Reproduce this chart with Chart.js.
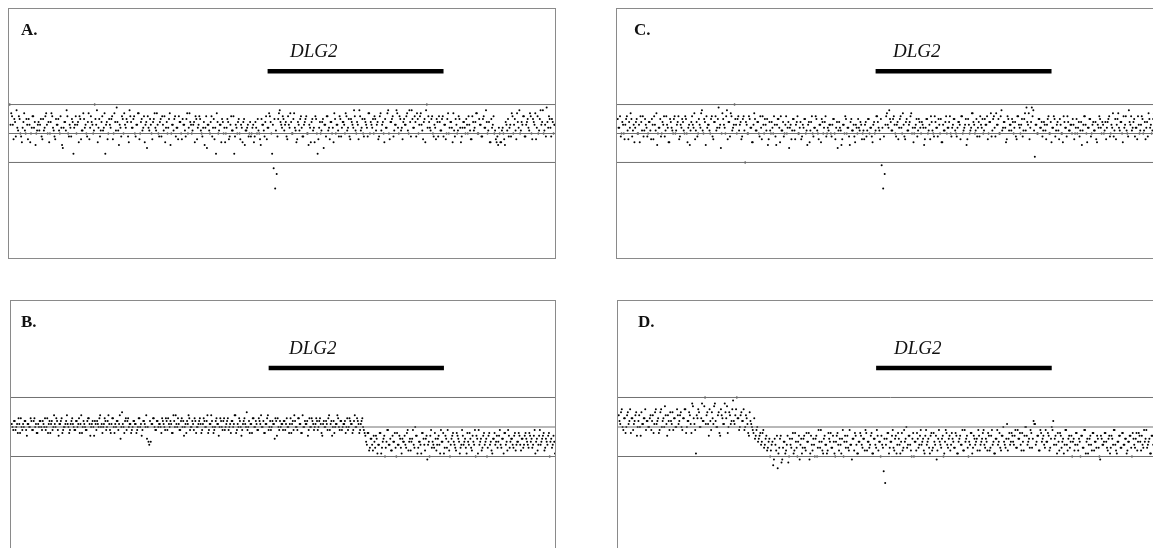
<!DOCTYPE html>
<html>
<head>
<meta charset="utf-8">
<script src="https://cdn.jsdelivr.net/npm/chart.js@4.4.1/dist/chart.umd.min.js"></script>
<style>
  html, body { margin: 0; padding: 0; background: #fff; }
  body { width: 1153px; height: 548px; overflow: hidden; position: relative;
         font-family: "Liberation Serif", "DejaVu Serif", serif; }
  .panel { position: absolute; border: 1px solid #8a8a8a; box-sizing: border-box; overflow: hidden; }
  .panel canvas { position: absolute; left: 0; top: 0; }
  .tag { position: absolute; font-size: 17px; font-weight: bold; line-height: 1; color: #111; }
  .gene { position: absolute; font-size: 19px; font-style: italic; line-height: 1; color: #111; }
</style>
</head>
<body>
<div class="panel" style="left:8px;top:8px;width:548px;height:251px;"><canvas id="chartA" width="546" height="249"></canvas></div>
<div class="panel" style="left:616px;top:8px;width:548px;height:251px;"><canvas id="chartC" width="546" height="249"></canvas></div>
<div class="panel" style="left:10px;top:300px;width:546px;height:256px;"><canvas id="chartB" width="544" height="252"></canvas></div>
<div class="panel" style="left:617px;top:300px;width:547px;height:256px;"><canvas id="chartD" width="545" height="252"></canvas></div>

<div class="tag" style="left:21px;top:21px;">A.</div>
<div class="tag" style="left:634px;top:21px;">C.</div>
<div class="tag" style="left:21px;top:313px;">B.</div>
<div class="tag" style="left:638px;top:313px;">D.</div>
<div class="gene" style="left:290px;top:41px;">DLG2</div>
<div class="gene" style="left:893px;top:41px;">DLG2</div>
<div class="gene" style="left:289px;top:338px;">DLG2</div>
<div class="gene" style="left:894px;top:338px;">DLG2</div>

<script>
// probe log-ratios in tenths of the threshold step (10 = upper line)
// two interleaved probe sets per panel
const panelA = [
  10,7,3,5,-1,2,6,0,-3,4,1,5,-2,3,0,6,2,-4,1,4,
  3,-1,5,2,7,0,-3,4,6,1,-2,3,5,0,2,-5,4,1,6,-1,
  2,5,-7,3,0,4,6,-2,1,5,3,-1,7,2,4,0,10,3,-3,5,
  1,6,2,-7,4,0,3,5,-2,7,1,4,-4,2,6,0,3,5,-1,8,
  4,2,6,-1,3,7,0,5,2,-3,4,6,1,3,-2,5,2,7,0,4,
  -1,3,6,2,0,5,-4,3,1,6,2,-2,4,0,5,3,-1,7,2,4,
  0,3,-3,5,2,6,1,-1,4,2,-5,3,0,6,2,-2,-7,4,1,3,
  5,0,-3,2,4,-1,6,1,-7,3,0,5,-2,2,4,-4,1,3,0,-1,
  2,-3,4,0,1,-2,5,3,-1,6,2,7,4,-7,-12,-19,-14,5,8,3,
  6,1,4,-2,3,7,0,5,2,-3,4,1,6,-1,3,5,0,-4,2,4,
  1,-3,5,-7,2,0,4,-5,3,6,1,-2,4,2,7,0,3,-1,5,2,
  4,0,6,2,-1,5,3,8,1,4,-2,6,2,0,5,3,-1,7,4,2,
  0,5,3,-2,6,1,4,-3,2,7,0,4,5,-1,3,8,2,6,1,-2,
  5,3,7,0,4,8,2,6,-1,5,3,7,1,4,-3,10,6,2,5,0,
  3,-2,4,6,1,5,-1,3,0,7,2,4,-3,1,5,0,6,2,-1,4,
  2,5,0,3,-2,6,1,4,7,0,3,-1,5,2,8,0,4,-3,2,6,
  1,-3,-4,0,-3,2,-2,4,1,-1,3,7,0,5,-2,4,8,1,3,6,
  -1,4,2,7,0,5,3,-2,6,1,8,4,0,3,9,2,5,-1,4,3
];
const panelA2 = [
  3,6,-2,4,8,1,5,-1,2,7,0,3,5,-3,2,6,4,0,3,1,
  5,-2,1,6,3,4,0,7,2,-1,5,3,1,6,-4,2,4,8,0,3,
  -1,4,2,6,3,-3,5,1,7,2,0,4,-2,6,3,1,5,8,2,-1,
  4,1,7,3,-2,5,2,6,0,4,9,1,3,-1,5,7,2,4,-3,6,
  2,5,0,3,7,-2,4,1,6,3,-5,2,5,0,4,7,1,3,-1,5,
  6,1,-3,4,2,7,0,3,5,-1,2,6,4,-2,3,1,5,0,7,3,
  1,4,6,-2,3,5,0,2,-4,6,3,1,4,-1,5,2,7,0,3,-3,
  4,2,0,5,-2,3,1,6,-1,2,4,0,3,-3,5,1,2,-1,4,0,
  3,-1,2,5,0,-4,3,1,4,-2,2,6,0,3,5,1,-1,7,4,2,
  5,3,-1,6,2,4,0,7,1,-2,3,5,2,-1,4,6,0,3,-3,5,
  2,6,0,-2,4,1,5,3,-1,6,2,4,0,-3,5,3,1,6,-1,4,
  3,7,1,5,-2,4,2,6,0,3,8,1,5,-1,4,2,7,0,3,5,
  6,1,4,-1,7,3,0,5,2,8,-2,4,6,1,3,7,0,5,2,4,
  3,6,1,8,-1,5,2,4,7,0,6,3,-2,5,8,2,4,1,6,-1,
  2,5,-1,4,1,6,3,-2,5,0,4,2,7,-1,3,1,5,-3,2,4,
  0,3,6,1,-2,4,2,7,0,5,3,-1,6,2,4,1,-3,5,3,0,
  -2,-1,2,-3,1,0,-4,3,5,2,-1,6,3,1,7,2,0,4,6,-1,
  3,5,1,6,-2,4,7,2,0,5,3,8,1,-1,4,6,2,5,0,3
];
const panelB = [
  1,-1,2,0,-2,1,3,-1,0,2,-3,1,0,2,-1,3,1,-2,0,2,
  -1,1,3,0,-2,2,1,-1,4,0,2,-3,1,3,-1,0,2,1,-2,1,
  3,0,-1,2,1,-2,4,0,1,-1,2,3,-3,1,0,2,-1,1,3,0,
  -2,1,2,0,4,-1,1,3,-2,0,2,1,-4,5,0,2,-1,3,1,-2,
  0,2,1,-1,3,0,-3,2,1,4,0,-6,-5,1,3,-1,2,0,1,-2,
  2,0,3,-1,1,2,-2,4,0,1,3,-1,2,0,-3,1,2,4,-1,0,
  1,3,-2,0,2,1,-1,3,0,2,-2,1,4,0,-1,2,1,-3,3,0,
  2,-1,1,3,0,-2,2,1,4,-1,0,2,-3,1,3,0,-1,2,1,-2,
  3,0,1,-1,2,4,0,-2,1,3,-1,2,0,1,-4,2,3,-1,0,1,
  2,-1,3,0,1,-2,2,4,0,-1,3,1,-2,0,2,1,-3,3,0,2,
  -1,1,2,0,3,-2,1,0,2,-1,4,1,-3,2,0,1,3,-1,2,0,
  1,-2,3,0,2,1,-1,4,0,2,-2,1,3,-1,-3,-6,-2,-7,-4,-8,
  -5,-3,-9,-6,-2,-7,-4,-10,-5,-1,-6,-8,-3,-5,-7,-2,-6,-4,-9,-5,
  -3,-7,-1,-5,-8,-4,-6,0,-3,-7,-5,-9,-2,-6,-4,-11,-5,-3,-7,-6,
  -2,-8,-4,-6,-1,-5,-9,-3,-7,-5,-10,-4,-2,-6,-8,-3,-5,-7,-1,-6,
  -4,-9,-5,-2,-7,-3,-6,-10,-4,-1,-5,-8,-3,-6,-4,-7,-2,-5,-9,-4,
  -6,-3,-5,-1,-7,-4,-2,-6,-8,-3,-5,-4,-7,-2,-6,-5,-3,-8,-4,-6,
  -2,-5,-7,-3,-4,-6,-1,-5,-8,-3,-6,-4,-2,-7,-5,-3,-10,-4,-6,-5
];
const panelB2 = [
  0,2,-1,1,3,-2,0,1,2,-1,1,0,3,-1,2,0,-2,1,2,0,
  2,0,-1,3,1,-2,2,0,1,3,-1,1,2,-2,0,1,4,0,-1,2,
  1,-1,2,0,3,1,-2,2,0,-1,3,1,0,2,-3,1,2,0,4,1,
  0,3,-1,2,1,-2,3,0,1,2,-1,4,0,1,-2,3,2,0,1,-1,
  2,1,-2,0,3,1,-1,2,0,-4,-5,2,1,3,0,-1,2,1,0,3,
  1,-1,2,3,0,1,-2,2,4,0,1,-1,3,2,0,-2,1,3,0,2,
  -1,2,0,1,3,-2,1,2,0,4,-1,1,2,-2,0,3,1,0,2,-1,
  3,0,2,-1,1,2,0,4,-2,1,3,0,-1,2,1,5,0,-2,1,3,
  0,2,-1,3,1,0,2,-2,1,4,0,-1,2,1,3,-3,0,2,1,-1,
  2,1,0,-2,3,1,-1,2,0,3,1,-2,4,0,1,2,-1,0,3,1,
  0,3,-1,2,1,-3,2,0,1,3,-1,2,0,-2,1,4,0,2,-1,1,
  2,0,-1,3,1,-2,2,0,3,1,-1,2,0,-2,-5,-2,-8,-4,-6,-3,
  -7,-4,-6,-2,-9,-5,-3,-7,-1,-6,-4,-8,-5,-2,-10,-6,-3,-7,-4,-5,
  -6,-2,-8,-4,-5,-1,-7,-3,-9,-5,-6,-2,-4,-8,-3,-6,-10,-1,-5,-7,
  -4,-6,-3,-9,-5,-2,-7,-4,-1,-8,-6,-3,-5,-7,-2,-4,-9,-6,-3,-5,
  -7,-2,-6,-4,-8,-5,-1,-3,-9,-6,-4,-7,-2,-5,-10,-3,-6,-8,-4,-2,
  -5,-7,-3,-6,-4,-9,-2,-5,-1,-7,-4,-6,-3,-8,-5,-2,-6,-4,-7,-3,
  -4,-6,-2,-5,-7,-3,-9,-4,-6,-1,-5,-3,-8,-4,-6,-2,-5,-7,-3,-9
];
const panelC = [
  5,2,-1,4,0,3,6,-2,2,5,1,-3,4,0,3,6,1,-1,5,2,
  0,4,-2,3,6,1,-4,2,5,0,3,-1,6,2,-3,4,1,5,0,3,
  6,-1,2,4,0,5,-3,3,1,6,2,-2,4,0,3,7,1,5,-4,2,
  3,0,6,-2,4,1,5,2,-5,7,3,0,8,4,-1,6,2,10,3,5,
  1,4,-1,6,-10,3,0,5,2,-3,7,1,4,0,6,-2,3,5,1,-4,
  4,0,2,6,-1,3,5,-3,1,4,0,6,2,-5,3,1,5,-2,4,0,
  2,-2,3,5,0,-4,4,1,6,-1,2,5,0,3,-3,4,2,6,0,1,
  3,-1,5,0,2,-5,4,1,-2,3,6,0,2,-4,5,1,-1,3,0,2,
  4,-2,1,3,-1,5,0,2,-3,4,1,6,2,-2,-11,-19,-14,6,3,8,
  4,1,6,0,3,-2,5,2,7,-1,4,1,3,6,0,-3,2,5,1,4,
  0,3,-4,2,5,1,-2,4,0,6,2,-1,3,5,-3,1,4,0,2,6,
  -1,3,5,0,2,4,-2,6,1,3,-4,5,0,2,7,3,1,-1,4,6,
  2,0,5,3,-2,4,7,1,6,-1,3,5,0,8,2,4,-3,6,1,3,
  5,0,4,-2,6,2,3,-1,5,1,4,7,2,9,8,-8,3,0,5,2,
  -1,4,1,3,6,0,-3,2,5,1,4,-2,3,0,6,2,-1,4,1,3,
  5,-2,2,0,4,1,-4,3,6,0,2,5,-1,3,1,4,-3,2,5,0,
  3,1,-2,4,6,0,2,-1,5,3,7,1,4,-3,2,6,0,8,3,1,
  4,-1,2,6,0,3,5,1,-2,4,7,2,0,5,3,-1,6,2,4,1
];
const panelC2 = [
  2,6,0,3,-2,5,1,4,7,-1,3,2,5,0,-3,4,6,1,3,-1,
  4,1,5,-2,3,7,0,2,-1,4,6,1,3,-3,5,2,0,6,1,4,
  -2,3,5,1,6,0,2,-4,4,3,7,1,-1,5,2,8,0,4,6,3,
  1,5,-1,4,6,2,9,3,0,5,2,6,-2,4,7,1,3,5,0,6,
  3,-2,5,1,4,0,6,2,-3,3,5,1,4,-1,2,6,0,3,5,-2,
  1,4,0,3,-4,5,2,6,1,-1,3,0,4,2,-2,5,1,3,6,0,
  4,-1,2,5,1,3,-3,4,0,2,6,1,-2,3,5,0,4,-1,2,3,
  0,3,5,-2,4,1,2,-4,3,0,5,2,-1,4,1,3,-3,2,5,1,
  3,0,-2,4,1,5,2,-1,3,0,6,4,1,5,2,-1,3,7,2,5,
  1,5,3,-1,4,2,6,0,3,-2,5,1,4,7,2,0,3,-1,5,2,
  4,2,-2,5,0,3,6,1,-1,4,2,5,0,-3,3,1,6,2,4,0,
  2,5,1,-1,4,3,6,0,2,5,-2,3,1,7,4,0,5,2,-1,3,
  5,1,3,6,0,4,-1,5,2,7,3,0,6,1,4,2,-2,5,3,1,
  4,2,-1,6,3,0,5,1,7,9,3,-2,4,6,1,3,0,5,2,4,
  1,3,-2,5,0,4,2,6,-1,3,1,5,0,-3,4,2,6,1,3,0,
  3,0,5,2,-1,4,1,6,3,-3,2,5,0,4,1,-2,3,6,2,4,
  0,4,2,5,-1,3,7,1,-2,5,2,4,0,6,3,1,-1,4,6,2,
  5,2,-2,3,1,6,0,4,2,-1,5,3,1,7,0,4,2,-3,3,5
];
const panelD = [
  4,1,6,-1,3,0,5,2,-2,3,1,4,-3,2,0,5,1,3,-1,2,
  0,4,2,-2,5,1,3,-1,6,2,0,4,-3,2,5,1,-1,3,0,4,
  2,5,-1,3,6,0,2,4,-2,7,1,-9,3,5,0,8,2,10,4,1,
  6,-1,3,7,2,0,5,-3,4,1,8,3,-2,5,1,6,2,4,10,3,
  0,5,2,-1,4,1,-3,2,0,-2,-4,-1,-5,-3,-6,-2,-7,-4,-8,-5,
  -10,-6,-13,-4,-8,-14,-7,-3,-11,-5,-9,-6,-12,-4,-7,-2,-8,-5,-10,-3,
  -6,-9,-4,-7,-2,-5,-11,-3,-8,-6,-4,-10,-1,-7,-5,-9,-3,-6,-8,-4,
  -2,-7,-5,-10,-3,-6,-4,-9,-1,-5,-7,-3,-8,-6,-11,-4,-2,-6,-9,-5,
  -3,-7,-4,-1,-8,-5,-6,-2,-9,-4,-7,-3,-5,-10,-6,-15,-19,-4,-2,-7,
  -5,-1,-8,-3,-6,-4,-9,-2,-7,-5,0,-6,-3,-8,-4,-10,-5,-2,-7,-3,
  -6,-4,-9,-1,-5,-7,-3,-8,-2,-6,-11,-4,-5,-7,-3,-9,-1,-6,-4,-8,
  -2,-5,-7,-3,-9,-4,-6,-1,-8,-5,-3,-10,-6,-2,-7,-4,-5,-8,-3,-6,
  -4,-1,-7,-5,-2,-8,-3,-6,-9,-4,-1,-5,-7,-3,0,-6,-4,-8,-2,-5,
  -3,-6,-1,-7,-4,-2,-8,-5,-3,0,-6,-4,-1,-7,2,1,-5,-3,-8,-2,
  -4,-6,-1,-5,-3,-7,0,2,-4,-6,-2,-8,-3,-5,-9,-1,-6,-4,-7,-3,
  -5,-8,-2,-6,-4,-10,-3,-7,-1,-5,-9,-4,-6,-2,-8,-5,-3,-7,-11,-4,
  -6,-2,-5,-8,-3,-7,-4,-1,-6,-9,-5,-3,-7,-2,-6,-4,-8,-5,-3,-10,
  -4,-7,-2,-5,-3,-8,-6,-1,-4,-7,-5,-9,-3,-6,-2,-5,-8,-4,-6,-3
];
const panelD2 = [
  2,5,0,3,-2,4,1,6,3,-1,2,5,0,4,-3,1,3,6,2,0,
  3,-1,4,1,6,2,-2,5,0,3,7,1,4,-1,2,5,3,0,6,1,
  4,0,3,6,-2,2,5,1,8,3,-1,4,6,0,3,2,7,1,5,-3,
  2,5,1,8,0,4,-2,6,3,1,5,7,0,4,2,9,1,6,3,-1,
  4,2,6,0,3,-2,5,1,-1,3,-3,0,-4,-2,-5,-1,-6,-3,-7,-4,
  -8,-5,-11,-6,-3,-9,-4,-12,-7,-5,-8,-3,-10,-6,-4,-9,-2,-7,-5,-11,
  -4,-7,-3,-8,-5,-2,-9,-6,-4,-10,-3,-7,-5,-1,-8,-4,-6,-9,-2,-5,
  -7,-3,-9,-5,-2,-8,-6,-4,-10,-3,-5,-7,-1,-6,-4,-8,-3,-9,-5,-2,
  -6,-4,-8,-2,-5,-7,-3,-9,-4,-6,-1,-8,-5,-3,-7,-4,-6,-2,-9,-5,
  -3,-7,-4,-9,-2,-6,-5,-8,-1,-4,-7,-3,-6,-10,-2,-5,-8,-4,-6,-1,
  -5,-8,-3,-6,-4,-9,-2,-7,-5,-3,-8,-1,-6,-4,-10,-5,-2,-7,-3,-6,
  -4,-7,-2,-9,-5,-3,-6,-8,-1,-4,-7,-5,-2,-9,-3,-6,-4,-1,-8,-5,
  -2,-6,-4,-8,-3,-7,-1,-5,-9,-4,-6,-2,-8,-3,-5,-7,1,-4,-6,-2,
  -5,-3,-7,-1,-4,-6,-2,-8,0,-3,-5,-7,-2,-4,1,-6,-3,-8,-1,-5,
  -3,-7,-5,-2,-8,-4,-1,-6,-3,-9,-5,-2,-7,-4,-6,-1,-8,-3,-5,-10,
  -4,-6,-2,-8,-5,-3,-7,-1,-9,-4,-6,-3,-8,-2,-5,-7,-4,-10,-3,-6,
  -5,-2,-7,-4,-9,-3,-6,-1,-8,-5,-3,-7,-2,-6,-4,-9,-5,-3,-7,-2,
  -6,-4,-8,-2,-5,-3,-7,-5,-1,-6,-4,-9,-3,-5,-7,-2,-6,-4,-8,-5
];

const thresholds = [-1, 0, 1];
const geneStart = 170;   // probe index where DLG2 starts
const geneEnd = 286;     // probe index where DLG2 ends

function drawPanel(canvasId, values, values2, yLimit, geneLevel) {
  const n = values.length;
  const xMin = -0.5;
  const xMax = n - 0.5;
  const ctx = document.getElementById(canvasId).getContext("2d");

  const datasets = thresholds.map((t) => ({
    data: [{ x: xMin, y: t }, { x: xMax, y: t }],
    showLine: true,
    borderColor: "#707070",
    borderWidth: 1,
    pointRadius: 0,
  }));
  datasets.push({
    data: [{ x: geneStart, y: geneLevel }, { x: geneEnd, y: geneLevel }],
    showLine: true,
    borderColor: "#000",
    borderWidth: 4.5,
    borderCapStyle: "butt",
    pointRadius: 0,
  });
  const dot = { pointRadius: 1, pointBackgroundColor: "#000", pointBorderWidth: 0 };
  datasets.push({ data: values.map((v, i) => ({ x: i, y: v / 10 })), ...dot });
  datasets.push({ data: values2.map((v, i) => ({ x: i + 0.5, y: v / 10 })), ...dot });

  new Chart(ctx, {
    type: "scatter",
    data: { datasets },
    options: {
      responsive: false,
      animation: false,
      events: [],
      layout: { padding: 0, autoPadding: false },
      plugins: { legend: { display: false }, tooltip: { enabled: false } },
      scales: {
        x: { type: "linear", min: xMin, max: xMax, display: false },
        y: { min: -yLimit, max: yLimit, display: false },
      },
    },
  });
}

drawPanel("chartA", panelA, panelA2, 4.3, 2.15);
drawPanel("chartC", panelC, panelC2, 4.3, 2.15);
drawPanel("chartB", panelB, panelB2, 4.27, 2.0);
drawPanel("chartD", panelD, panelD2, 4.27, 2.0);
</script>
</body>
</html>
